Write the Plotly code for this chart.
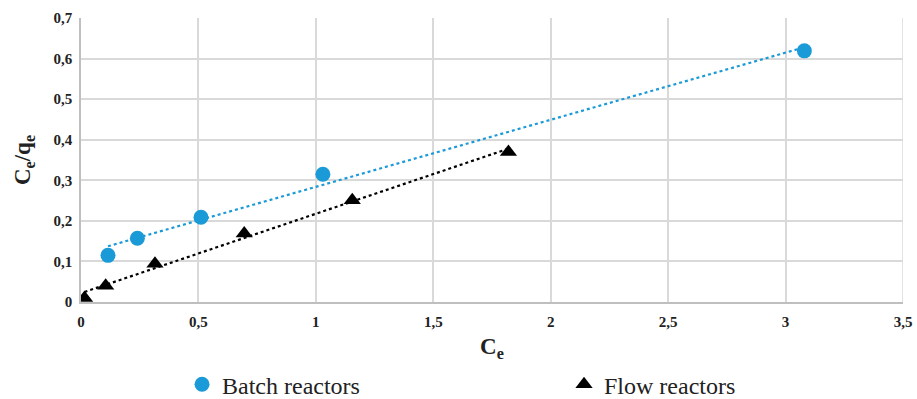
import numpy as np
import plotly.graph_objects as go

batch_x = [0.115, 0.24, 0.511, 1.03, 3.08]
batch_y = [0.115, 0.157, 0.209, 0.315, 0.619]
flow_x = [0.015, 0.105, 0.315, 0.695, 1.155, 1.82]
flow_y = [0.010, 0.040, 0.094, 0.169, 0.251, 0.370]

x_ticks = [0, 0.5, 1, 1.5, 2, 2.5, 3, 3.5]
x_labels = ["0", "0,5", "1", "1,5", "2", "2,5", "3", "3,5"]
y_ticks = [0, 0.1, 0.2, 0.3, 0.4, 0.5, 0.6, 0.7]
y_labels = ["0", "0,1", "0,2", "0,3", "0,4", "0,5", "0,6", "0,7"]

BLUE = "#1b9ad8"
FONT = "Liberation Serif"

def trend(xs, ys):
    k, b = np.polyfit(xs, ys, 1)
    xx = np.array([min(xs), max(xs)])
    return xx, k * xx + b

fig = go.Figure()
bx, by = trend(batch_x, batch_y)
fx, fy = trend(flow_x, flow_y)
fig.add_trace(go.Scatter(x=bx, y=by, mode="lines", showlegend=False,
                         line=dict(color=BLUE, width=2.2, dash="dot"), hoverinfo="skip"))
fig.add_trace(go.Scatter(x=fx, y=fy, mode="lines", showlegend=False,
                         line=dict(color="black", width=2.2, dash="dot"), hoverinfo="skip"))
fig.add_trace(go.Scatter(x=batch_x, y=batch_y, mode="markers", name="Batch reactors",
                         marker=dict(symbol="circle", size=15, color=BLUE)))
fig.add_trace(go.Scatter(x=flow_x, y=flow_y, mode="markers", name="Flow reactors",
                         marker=dict(symbol="triangle-up", size=15, color="black")))

fig.update_layout(
    width=917, height=399,
    margin=dict(l=81, r=14, t=18, b=97, autoexpand=False),
    paper_bgcolor="white", plot_bgcolor="white",
    font=dict(family=FONT, color="#222"),
    showlegend=True,
    legend=dict(orientation="h", xref="container", yref="container",
                x=0.1985, xanchor="left", y=0.036, yanchor="middle",
                entrywidth=337, entrywidthmode="pixels",
                font=dict(family=FONT, size=24, color="#222"), itemsizing="trace",
                itemwidth=30),
)
fig.update_xaxes(range=[0, 3.5], tickvals=x_ticks, ticktext=["<b>%s</b>" % t for t in x_labels],
                 showgrid=True, gridcolor="#d9d9d9", gridwidth=1.5,
                 zeroline=False, showline=True, linecolor="#bfbfbf", linewidth=1.5,
                 ticklabelstandoff=5,
                 tickfont=dict(family=FONT, size=15, color="#222"),
                 title=dict(text="<b>C<sub>e</sub></b>", font=dict(family=FONT, size=23, color="#222"),
                            standoff=11))
fig.update_yaxes(range=[0, 0.7], tickvals=y_ticks, ticktext=["<b>%s</b>" % t for t in y_labels],
                 showgrid=True, gridcolor="#d9d9d9", gridwidth=1.5,
                 zeroline=False, showline=True, linecolor="#bfbfbf", linewidth=1.5,
                 ticklabelstandoff=4,
                 tickfont=dict(family=FONT, size=15, color="#222"),
                 title=dict(text="<b>C<sub>e</sub>/q<sub>e</sub></b>", font=dict(family=FONT, size=23, color="#222"),
                            standoff=16))
fig.add_shape(type="line", xref="x", yref="paper", x0=3.5, x1=3.5, y0=0, y1=1,
              line=dict(color="#d9d9d9", width=1.5), layer="below")

fig.write_html("out.html", config={"displayModeBar": False},
               post_script="document.body.style.margin='0';document.body.style.overflow='hidden';")
